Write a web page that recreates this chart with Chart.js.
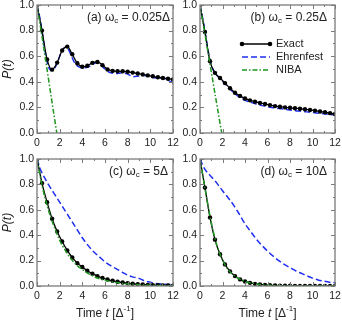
<!DOCTYPE html>
<html>
<head>
<meta charset="utf-8">
<script src="https://cdn.jsdelivr.net/npm/chart.js@4.4.1/dist/chart.umd.min.js"></script>
<style>
  html, body { margin: 0; padding: 0; background: #fff; }
  #wrap { position: relative; width: 342px; height: 323px; overflow: hidden; }
  .panel { position: absolute; }
  canvas { display: block; }
</style>
</head>
<body>
<div id="wrap">
  <div class="panel" style="left:0;top:0"><canvas id="pa" width="180" height="150"></canvas></div>
  <div class="panel" style="left:170px;top:0"><canvas id="pb" width="172" height="150"></canvas></div>
  <div class="panel" style="left:0;top:150px"><canvas id="pc" width="180" height="173"></canvas></div>
  <div class="panel" style="left:170px;top:150px"><canvas id="pd" width="172" height="173"></canvas></div>
</div>
<script>
// time grid of the exact (markers) curves
const tExact = [0, 0.44, 0.89, 1.33, 1.78, 2.22, 2.67, 3.11, 3.56, 4.0, 4.44, 4.89, 5.33, 5.78,
  6.22, 6.67, 7.11, 7.56, 8.0, 8.44, 8.89, 9.33, 9.78, 10.22, 10.67, 11.11, 11.56, 12.0];
const exactA = [1.0, 0.80, 0.575, 0.495, 0.55, 0.645, 0.675, 0.615, 0.545, 0.518, 0.525, 0.548, 0.555, 0.53,
  0.497, 0.485, 0.482, 0.482, 0.478, 0.472, 0.465, 0.458, 0.45, 0.443, 0.436, 0.43, 0.424, 0.418];
const exactB = [1.0, 0.79, 0.56, 0.47, 0.43, 0.39, 0.35, 0.315, 0.29, 0.27, 0.255, 0.245, 0.235, 0.226,
  0.218, 0.21, 0.205, 0.2, 0.197, 0.193, 0.19, 0.185, 0.18, 0.175, 0.168, 0.162, 0.155, 0.148];
const exactC = [1.0, 0.81, 0.66, 0.53, 0.43, 0.35, 0.28, 0.225, 0.18, 0.15, 0.12, 0.097, 0.078, 0.063,
  0.051, 0.041, 0.033, 0.027, 0.022, 0.018, 0.014, 0.012, 0.009, 0.007, 0.006, 0.005, 0.004, 0.003];
const exactD = [1.0, 0.775, 0.54, 0.365, 0.25, 0.17, 0.115, 0.078, 0.052, 0.036, 0.025, 0.017, 0.012, 0.008,
  0.006, 0.004, 0.003, 0.002, 0.002, 0.001, 0.001, 0.001, 0.001, 0.001, 0, 0, 0, 0];

// Ehrenfest
const tEhrA = [0, 0.25, 0.5, 0.75, 1, 1.25, 1.5, 1.75, 2, 2.25, 2.5, 2.75, 3, 3.25, 3.5, 3.75, 4, 4.5, 5,
  5.25, 5.5, 6, 6.5, 7, 7.5, 8, 8.5, 9, 9.5, 10, 10.5, 11, 11.5, 12];
const ehrA = [1, 0.9, 0.76, 0.62, 0.52, 0.49, 0.5, 0.54, 0.6, 0.65, 0.67, 0.655, 0.61, 0.56, 0.53, 0.515, 0.51,
  0.515, 0.54, 0.55, 0.54, 0.5, 0.47, 0.465, 0.47, 0.46, 0.44, 0.445, 0.45, 0.44, 0.43, 0.43, 0.415, 0.39];
const tEhr = [0, 0.25, 0.5, 0.75, 1, 1.5, 2, 2.5, 3, 3.5, 4, 4.5, 5, 5.5, 6, 6.5, 7, 7.5, 8, 8.5, 9, 9.5,
  10, 10.5, 11, 11.5, 12];
const ehrB = [1, 0.89, 0.76, 0.63, 0.53, 0.45, 0.405, 0.36, 0.315, 0.28, 0.255, 0.24, 0.226, 0.214, 0.205,
  0.198, 0.192, 0.186, 0.18, 0.174, 0.17, 0.165, 0.16, 0.155, 0.15, 0.145, 0.14];
const ehrC = [1, 0.93, 0.88, 0.84, 0.8, 0.73, 0.66, 0.59, 0.52, 0.45, 0.38, 0.32, 0.27, 0.23, 0.19, 0.16,
  0.135, 0.11, 0.085, 0.07, 0.06, 0.04, 0.03, 0.02, 0.015, 0.012, 0.012];
const ehrD = [1, 0.95, 0.91, 0.885, 0.86, 0.81, 0.75, 0.695, 0.635, 0.565, 0.49, 0.43, 0.37, 0.32, 0.275,
  0.235, 0.2, 0.17, 0.145, 0.12, 0.1, 0.08, 0.062, 0.048, 0.038, 0.03, 0.026];

// NIBA
const tNibaA = [0, 0.5, 1, 1.5, 1.75];
const nibaA = [1, 0.72, 0.43, 0.14, 0];
const tNibaB = [0, 0.5, 1, 1.5, 1.93];
const nibaB = [1, 0.74, 0.48, 0.22, 0];
const tNibaCD = [0, 0.5, 1, 1.5, 2, 2.5, 3, 3.5, 4, 5, 6, 7, 8, 10, 12];
const nibaC = [1, 0.77, 0.6, 0.47, 0.36, 0.28, 0.215, 0.165, 0.13, 0.075, 0.045, 0.027, 0.016, 0.006, 0.002];
const nibaD = [1, 0.74, 0.5, 0.32, 0.205, 0.13, 0.085, 0.055, 0.036, 0.016, 0.007, 0.003, 0.001, 0, 0];

const xTicks = [0, 2, 4, 6, 8, 10, 12];
const yTicks = [0, 0.2, 0.4, 0.6, 0.8, 1.0];

const BLUE = '#1f2ff0';
const GREEN = '#1e951e';
const FONT = "'Liberation Sans', Arial, sans-serif";

const pts = (ts, vs) => ts.map((t, i) => ({ x: t, y: vs[i] }));

function drawRich(ctx, parts, right, y) {
  // parts: [text, isSub] ; right aligned
  const big = `12px ${FONT}`, small = `8px ${FONT}`;
  let w = 0;
  parts.forEach(([s, sub]) => { ctx.font = sub ? small : big; w += ctx.measureText(s).width; });
  let x = right - w;
  parts.forEach(([s, sub]) => {
    ctx.font = sub ? small : big;
    ctx.fillText(s, x, sub ? y + 3 : y);
    x += ctx.measureText(s).width;
  });
}

const decor = {
  id: 'decor',
  afterDatasetsDraw(chart, args, opts) {
    const { ctx, chartArea: a, scales: { x, y } } = chart;
    ctx.save();
    // inward ticks on all four sides
    ctx.strokeStyle = '#7a7a7a';
    ctx.lineWidth = 1;
    ctx.beginPath();
    for (let v = 0; v <= 12; v++) {
      const px = Math.round(x.getPixelForValue(v)) + 0.5;
      const len = v % 2 ? 2 : 4;
      ctx.moveTo(px, a.bottom); ctx.lineTo(px, a.bottom - len);
      ctx.moveTo(px, a.top); ctx.lineTo(px, a.top + len);
    }
    for (let i = 0; i <= 10; i++) {
      const py = Math.round(y.getPixelForValue(i / 10)) + 0.5;
      const len = i % 2 ? 2 : 4;
      ctx.moveTo(a.left, py); ctx.lineTo(a.left + len, py);
      ctx.moveTo(a.right, py); ctx.lineTo(a.right - len, py);
    }
    ctx.stroke();
    ctx.lineWidth = 1.3;
    ctx.strokeRect(a.left, a.top, a.right - a.left, a.bottom - a.top);

    // panel label
    ctx.fillStyle = '#222';
    ctx.textBaseline = 'middle';
    drawRich(ctx, opts.label, a.right - opts.labelRight, a.top + 13);

    // y title
    if (opts.yTitle) {
      ctx.save();
      ctx.translate(a.left - 29, (a.top + a.bottom) / 2);
      ctx.rotate(-Math.PI / 2);
      ctx.textAlign = 'center';
      ctx.font = `italic 12px ${FONT}`;
      ctx.fillText('P(t)', 0, 0);
      ctx.restore();
    }
    // x title
    if (opts.xTitle) {
      const parts = [['Time ', 0, ''], ['t', 0, 'italic '], [' [Δ', 0, ''], ['-1', 1, ''], [']', 0, '']];
      const fontOf = p => `${p[2]}${p[1] ? 8 : 12}px ${FONT}`;
      let w = 0;
      parts.forEach(p => { ctx.font = fontOf(p); w += ctx.measureText(p[0]).width; });
      let cx = (a.left + a.right) / 2 - w / 2;
      const ty = a.bottom + 28;
      parts.forEach(p => {
        ctx.font = fontOf(p);
        ctx.fillText(p[0], cx, p[1] ? ty - 5 : ty);
        cx += ctx.measureText(p[0]).width;
      });
    }
    // legend
    if (opts.legend) {
      const items = [
        { name: 'Exact', color: '#000', dash: [], marker: true },
        { name: 'Ehrenfest', color: BLUE, dash: [6, 3] },
        { name: 'NIBA', color: GREEN, dash: [5, 2, 1.5, 2] },
      ];
      const x0 = a.left + 42, x1 = a.left + 70;
      items.forEach((it, i) => {
        const ly = a.top + 39 + i * 13;
        ctx.strokeStyle = it.color;
        ctx.lineWidth = 1.5;
        ctx.setLineDash(it.dash);
        ctx.beginPath(); ctx.moveTo(x0, ly); ctx.lineTo(x1, ly); ctx.stroke();
        ctx.setLineDash([]);
        if (it.marker) {
          ctx.fillStyle = '#000';
          [x0, x1].forEach(mx => { ctx.beginPath(); ctx.arc(mx, ly, 2.3, 0, Math.PI * 2); ctx.fill(); });
        }
        ctx.fillStyle = '#222';
        ctx.font = `11px ${FONT}`;
        ctx.textAlign = 'left';
        ctx.fillText(it.name, a.left + 76, ly);
      });
    }
    ctx.restore();
  }
};

function makePanel(id, p) {
  const tickFont = { family: FONT, size: 10.5 };
  new Chart(document.getElementById(id), {
    type: 'line',
    data: {
      datasets: [
        { label: 'NIBA', data: p.niba, borderColor: GREEN, borderWidth: 1.5, borderDash: [5, 2, 1.5, 2],
          pointRadius: 0, cubicInterpolationMode: 'monotone', order: 0 },
        { label: 'Exact', data: p.exact, borderColor: '#000', backgroundColor: '#000', borderWidth: 1.3,
          pointRadius: 2.2, pointBorderWidth: 0, pointBackgroundColor: '#000',
          cubicInterpolationMode: 'monotone', order: 1 },
        { label: 'Ehrenfest', data: p.ehr, borderColor: BLUE, borderWidth: 1.5, borderDash: [6, 3],
          pointRadius: 0, cubicInterpolationMode: 'monotone', order: 2 },
      ],
    },
    options: {
      responsive: false,
      animation: false,
      devicePixelRatio: 1,
      layout: { padding: p.pad },
      plugins: {
        legend: { display: false },
        tooltip: { enabled: false },
        decor: p.decor,
      },
      scales: {
        x: {
          type: 'linear', min: 0, max: 12,
          afterBuildTicks: s => { s.ticks = xTicks.map(v => ({ value: v })); },
          afterFit: s => { s.height = p.xh; s.paddingLeft = 0; s.paddingRight = 0; },
          grid: { display: false, drawTicks: false },
          border: { display: false },
          ticks: { padding: 4, font: tickFont, color: '#222', maxRotation: 0, autoSkip: false },
        },
        y: {
          min: 0, max: 1,
          afterBuildTicks: s => { s.ticks = yTicks.map(v => ({ value: v })); },
          afterFit: s => { s.width = p.yw; s.paddingTop = 0; s.paddingBottom = 0; },
          grid: { display: false, drawTicks: false },
          border: { display: false },
          ticks: { padding: 3, font: tickFont, color: '#222', autoSkip: false, callback: v => v.toFixed(1) },
        },
      },
    },
    plugins: [decor],
  });
}

makePanel('pa', {
  exact: pts(tExact, exactA), ehr: pts(tEhrA, ehrA), niba: pts(tNibaA, nibaA),
  pad: { top: 5, right: 7, left: 0, bottom: 0 }, yw: 37, xh: 17,
  decor: { label: [['(a) ω', 0], ['c', 1], [' = 0.025Δ', 0]], labelRight: 3, yTitle: true },
});
makePanel('pb', {
  exact: pts(tExact, exactB), ehr: pts(tEhr, ehrB), niba: pts(tNibaB, nibaB),
  pad: { top: 5, right: 7, left: 0, bottom: 0 }, yw: 30, xh: 17,
  decor: { label: [['(b) ω', 0], ['c', 1], [' = 0.25Δ', 0]], labelRight: 8, legend: true },
});
makePanel('pc', {
  exact: pts(tExact, exactC), ehr: pts(tEhr, ehrC), niba: pts(tNibaCD, nibaC),
  pad: { top: 9, right: 7, left: 0, bottom: 0 }, yw: 37, xh: 37,
  decor: { label: [['(c) ω', 0], ['c', 1], [' = 5Δ', 0]], labelRight: 5, yTitle: true, xTitle: true },
});
makePanel('pd', {
  exact: pts(tExact, exactD), ehr: pts(tEhr, ehrD), niba: pts(tNibaCD, nibaD),
  pad: { top: 9, right: 7, left: 0, bottom: 0 }, yw: 30, xh: 37,
  decor: { label: [['(d) ω', 0], ['c', 1], [' = 10Δ', 0]], labelRight: 8, xTitle: true },
});
</script>
</body>
</html>
